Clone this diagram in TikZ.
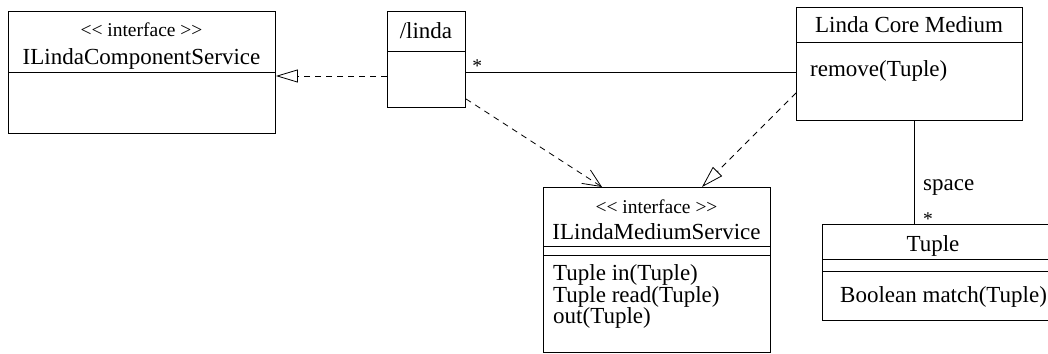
\documentclass[tikz,border=0pt]{standalone}
\usepackage{fontspec}
\setmainfont{Liberation Serif}
\usetikzlibrary{arrows.meta}

% angle-bracket stereotype; the kerns stop the << >> font mapping to guillemets
\newcommand{\stereotype}[1]{<\kern0pt<\ #1 >\kern0pt>}

\tikzset{
  big/.style={font=\fontsize{23}{27}\selectfont},
  small/.style={font=\fontsize{19.5}{23}\selectfont},
  umlbox/.style={draw, line width=0.9pt, rectangle, anchor=north west, inner sep=0pt},
  lbl/.style={big, anchor=base, inner sep=0pt},
  lbll/.style={big, anchor=base west, inner sep=0pt},
  stereo/.style={small, anchor=base, inner sep=0pt},
  conn/.style={line width=0.8pt},
  dep/.style={conn, dash pattern=on 6pt off 5pt},
  realize/.style={dep, -{Triangle[open, length=22pt, width=13pt]}},
  usearrow/.style={dep, -{Straight Barb[length=18pt, width=16pt]}},
}

\begin{document}
\begin{tikzpicture}[x=1pt, y=-1pt]
  \useasboundingbox (0,0) rectangle (1048,353);
  \clip (0,0) rectangle (1048,353);

  % interface ILindaComponentService
  \node[umlbox, minimum width=267pt, minimum height=122pt] (ics) at (8,11) {};
  \draw[conn] (8,72) -- (275,72);
  \node[stereo] (icsst) at (141.5,37) {\stereotype{interface}};
  \node[lbl] (icsname) at (141.5,64) {ILindaComponentService};

  % part /linda
  \node[umlbox, minimum width=78pt, minimum height=96pt] (linda) at (387,11) {};
  \draw[conn] (387,51) -- (465,51);
  \node[lbl] (lindaname) at (426,38) {/linda};

  % class Linda Core Medium
  \node[umlbox, minimum width=226pt, minimum height=113pt] (core) at (796,7) {};
  \draw[conn] (796,42) -- (1022,42);
  \node[lbl] (corename) at (909,33) {Linda Core Medium};
  \node[lbll] (coreop) at (810,76) {remove(Tuple)};

  % interface ILindaMediumService
  \node[umlbox, minimum width=227pt, minimum height=165pt] (ims) at (543,187) {};
  \draw[conn] (543,246) -- (770,246);
  \draw[conn] (543,255) -- (770,255);
  \node[stereo] (imsst) at (656.5,213) {\stereotype{interface}};
  \node[lbl] (imsname) at (656.5,239) {ILindaMediumService};
  \node[lbll] (imsop1) at (553,280) {Tuple in(Tuple)};
  \node[lbll] (imsop2) at (553,302) {Tuple read(Tuple)};
  \node[lbll] (imsop3) at (553,323) {out(Tuple)};

  % class Tuple
  \node[umlbox, minimum width=234pt, minimum height=96pt] (tuple) at (822,224) {};
  \draw[conn] (822,259) -- (1056,259);
  \draw[conn] (822,271) -- (1056,271);
  \node[lbl] (tuplename) at (933,251) {Tuple};
  \node[lbll] (tupleop) at (840,302) {Boolean match(Tuple)};

  % connectors
  \draw[realize] ([yshift=-65pt]linda.north west) -- ([yshift=-65pt]ics.north east);
  \draw[conn] ([yshift=-61pt]linda.north east) -- ([yshift=-65pt]core.north west)
    node[pos=0, small, anchor=base west, inner sep=0pt, xshift=6pt] (mstar) {*};
  \draw[usearrow] ([yshift=9pt]linda.south east) -- ([xshift=59pt]ims.north west);
  \draw[realize] ([yshift=-86pt]core.north west) -- ([xshift=159pt]ims.north west);
  \draw[conn] ([xshift=118pt]core.south west) -- ([xshift=92pt]tuple.north west);
  \node[lbll] (spacelbl) at (923,190) {space};
  \node[small, anchor=base west, inner sep=0pt] (tstar) at (923,225) {*};
\end{tikzpicture}
\end{document}
